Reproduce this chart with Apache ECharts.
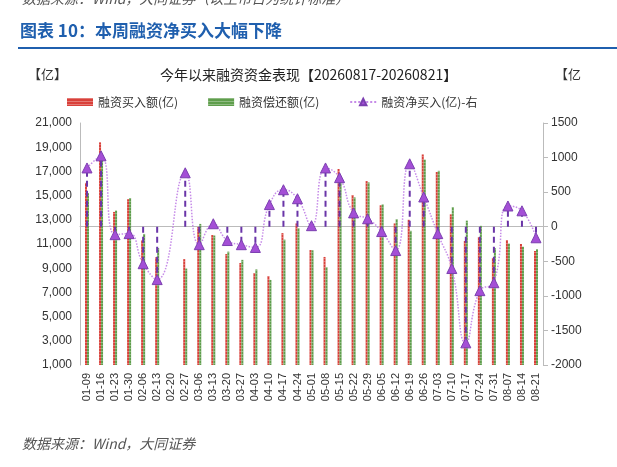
<!DOCTYPE html><html><head><meta charset="utf-8"><script src="https://cdn.jsdelivr.net/npm/echarts@6/dist/echarts.min.js"></script>
<style>body{margin:0;background:#fff}#c{width:617px;height:467px}</style></head><body><div id="c"></div><script>
const categories=['01-09','01-16','01-23','01-30','02-06','02-13','02-20','02-27','03-06','03-13','03-20','03-27','04-03','04-10','04-17','04-24','05-01','05-08','05-15','05-22','05-29','06-05','06-12','06-19','06-26','07-03','07-10','07-17','07-24','07-31','08-07','08-14','08-21'];
const buy=[16050,19400,13650,14700,11300,9900,null,9750,12400,11740,10170,9430,8600,8350,11900,12700,10500,9930,17200,15050,16200,14200,12700,13000,18400,16950,13450,11250,11575,9840,11330,11000,10420];
const repay=[15200,18400,13760,14800,11830,10660,null,8970,12660,11700,10370,9690,8900,8030,11360,12300,10480,9080,16490,14850,16090,14270,13050,12090,17970,17050,14050,12930,12500,10650,11030,10770,10580];
const net=[850,1025,-115,-100,-535,-765,null,780,-260,43,-200,-260,-300,320,535,405,15,850,710,200,115,-70,-345,910,430,-100,-605,-1680,-925,-810,300,230,-160];
const leftTicks=[1000,3000,5000,7000,9000,11000,13000,15000,17000,19000,21000];
const rightTicks=[-2000,-1500,-1000,-500,0,500,1000,1500];
const ch=echarts.init(document.getElementById('c'));
const F='"Noto Sans CJK SC",sans-serif';
ch.setOption({
animation:false,
graphic:[
{type:'text',left:22,top:-8,style:{text:'数据来源：Wind，大同证券（以上市日为统计标准）',fill:'#555',font:'italic 14px '+F}},
{type:'text',left:20,top:22,style:{text:'图表 10：本周融资净买入大幅下降',fill:'#1f5fae',font:'bold 17px '+F}},
{type:'rect',shape:{x:18,y:47,width:599,height:2},style:{fill:'#1f5fae'}},
{type:'text',left:28,top:68,style:{text:'【亿】',fill:'#333',font:'13px '+F}},
{type:'text',left:555,top:68,style:{text:'【亿',fill:'#333',font:'13px '+F}},
{type:'text',left:160,top:68,style:{text:'今年以来融资资金表现【20260817-20260821】',fill:'#222',font:'14px '+F}},
{type:'text',left:22,top:437,style:{text:'数据来源：Wind，大同证券',fill:'#555',font:'italic 14px '+F}}
],
legend:{top:91,left:62,itemGap:30,itemWidth:26,itemHeight:8,textStyle:{fontSize:12,color:'#333',fontFamily:F},
data:[{name:'融资买入额(亿)',icon:'rect'},{name:'融资偿还额(亿)',icon:'rect'},{name:'融资净买入(亿)-右'}]},
grid:{left:80,right:74,top:123,bottom:102},
xAxis:{type:'category',data:categories,axisTick:{show:false},axisLine:{lineStyle:{color:'#bbb'}},
axisLabel:{rotate:90,interval:0,fontSize:11,color:'#333',fontFamily:'Liberation Sans'}},
yAxis:[{type:'value',min:1000,max:21000,interval:2000,axisLine:{show:true,lineStyle:{color:'#bbb'}},splitLine:{show:false},
axisLabel:{fontSize:12,color:'#333',formatter:v=>v.toLocaleString('en-US')}},
{type:'value',min:-2000,max:1500,interval:500,axisLine:{show:true,lineStyle:{color:'#bbb'}},axisTick:{show:true},splitLine:{show:false},
axisLabel:{fontSize:12,color:'#333',formatter:v=>String(v)}}],
series:[
{name:'融资买入额(亿)',type:'bar',data:buy,barWidth:2,barGap:'0%',itemStyle:{color:'#d9403a',decal:{symbol:'rect',color:'rgba(255,255,255,0.3)',dashArrayX:[1,0],dashArrayY:[1,2]}}},
{name:'融资偿还额(亿)',type:'bar',data:repay,barWidth:2,itemStyle:{color:'#5f9e4c',decal:{symbol:'rect',color:'rgba(255,255,255,0.3)',dashArrayX:[1,0],dashArrayY:[1,2]}}},
{name:'stems',type:'custom',yAxisIndex:1,data:net.map((v,i)=>[i,v]),z:3,
renderItem:(p,api)=>{const v=api.value(1);if(v==null||isNaN(v))return;const a=api.coord([api.value(0),0]),b=api.coord([api.value(0),v]);
return {type:'line',shape:{x1:a[0],y1:a[1],x2:b[0],y2:b[1]},style:{stroke:'#6a35a8',lineWidth:2,lineDash:[6,4]}};}},
{name:'融资净买入(亿)-右',type:'line',yAxisIndex:1,data:net,smooth:true,connectNulls:true,z:5,symbol:'triangle',symbolSize:10,
lineStyle:{color:'#c68be8',width:1.5,type:'dotted'},itemStyle:{color:'#a44fd6',borderColor:'#7b3fb0',borderWidth:1}}
]});
</script></body></html>
